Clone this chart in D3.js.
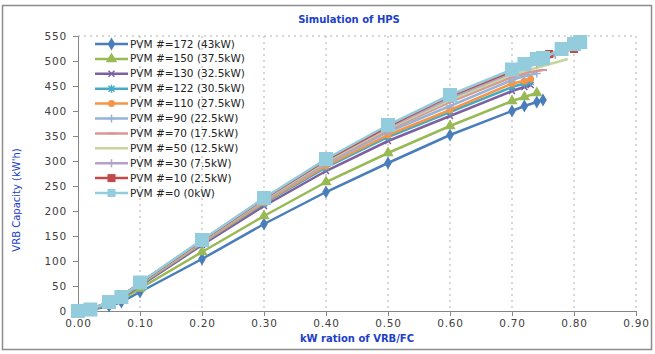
<!DOCTYPE html>
<html>
<head>
<meta charset="utf-8">
<script src="https://cdn.jsdelivr.net/npm/d3@7"></script>
<style>
  body { margin: 0; background: #fff; }
  text { font-family: "DejaVu Sans", sans-serif; }
</style>
</head>
<body>
<div id="chart"></div>
<script>
// series names
const seriesNames = [
  "PVM #=172 (43kW)", "PVM #=150 (37.5kW)", "PVM #=130 (32.5kW)", "PVM #=122 (30.5kW)",
  "PVM #=110 (27.5kW)", "PVM #=90 (22.5kW)", "PVM #=70 (17.5kW)", "PVM #=50 (12.5kW)",
  "PVM #=30 (7.5kW)", "PVM #=10 (2.5kW)", "PVM #=0 (0kW)"
];

// kW ratio values (x) common start, then each series has its own tail
const xBase = [0, 0.02, 0.05, 0.07, 0.10, 0.20, 0.30, 0.40, 0.50, 0.60, 0.70];
const xTails = [
  [0.72, 0.74, 0.75],
  [0.72, 0.74],
  [0.72, 0.73],
  [0.72, 0.73],
  [0.72, 0.73],
  [0.72, 0.74],
  [0.73, 0.75],
  [0.75, 0.79],
  [0.74, 0.77],
  [0.74, 0.76, 0.80],
  [0.72, 0.74, 0.75, 0.78, 0.80, 0.81]
];

// VRB capacity values (y)
const yValues = [
  [0, 2, 10, 18, 38, 104, 174, 238, 296, 352, 400, 410, 418, 422],
  [0, 3, 13, 22, 45, 118, 190, 258, 316, 370, 420, 428, 436],
  [0, 3, 15, 26, 50, 132, 210, 280, 340, 390, 440, 448, 452],
  [0, 3, 16, 27, 52, 135, 215, 287, 348, 398, 448, 455, 458],
  [0, 3, 16, 28, 53, 136, 217, 290, 352, 402, 455, 460, 464],
  [0, 3, 17, 28, 54, 138, 220, 294, 358, 410, 462, 470, 475],
  [0, 3, 17, 29, 55, 139, 222, 297, 362, 418, 468, 478, 482],
  [0, 3, 17, 29, 55, 140, 223, 299, 365, 422, 473, 490, 504],
  [0, 3, 18, 29, 56, 141, 224, 301, 367, 426, 477, 495, 512],
  [0, 3, 18, 30, 56, 141, 225, 302, 369, 430, 480, 500, 514, 524],
  [0, 3, 18, 28, 57, 142, 226, 304, 372, 432, 483, 494, 504, 506, 524, 534, 538]
];

const xTicks = [0, 0.1, 0.2, 0.3, 0.4, 0.5, 0.6, 0.7, 0.8, 0.9];
const yTicks = [0, 50, 100, 150, 200, 250, 300, 350, 400, 450, 500, 550];

const colors = ["#4A7EBB", "#98B954", "#7D60A0", "#46AAC5", "#F69545", "#95B3D7",
                "#D99694", "#C3D69B", "#B3A2C7", "#BE4B48", "#93CDDD"];
const markers = ["diamond", "triangle", "x", "star", "circle", "plus",
                 "dash", "none", "plus", "square", "bigsquare"];

const W = 655, H = 354;
const margin = { top: 36, right: 19, bottom: 43, left: 78 },
  width = W - margin.left - margin.right,
  height = H - margin.top - margin.bottom;

const svg = d3.select("#chart").append("svg")
  .attr("width", W).attr("height", H);

// outer chart frame
svg.append("rect")
  .attr("x", 2.5).attr("y", 5.5).attr("width", 649).attr("height", 344)
  .attr("fill", "none").attr("stroke", "#8c8c8c").attr("stroke-width", 1.5);

const g = svg.append("g").attr("transform", `translate(${margin.left},${margin.top})`);

const x = d3.scaleLinear().domain([0, 0.9]).range([0, width]);
const y = d3.scaleLinear().domain([0, 550]).range([height, 0]);

// vertical dotted gridlines
g.selectAll(".vgrid").data(xTicks.slice(1)).join("line")
  .attr("x1", d => x(d)).attr("x2", d => x(d))
  .attr("y1", 0).attr("y2", height)
  .attr("stroke", "#b0b0b0").attr("stroke-dasharray", "2,4");
// top dotted border
g.append("line").attr("x1", 0).attr("x2", width).attr("y1", 0).attr("y2", 0)
  .attr("stroke", "#b0b0b0").attr("stroke-dasharray", "2,4");

// axes
const xAxis = g.append("g").attr("transform", `translate(0,${height})`)
  .call(d3.axisBottom(x).tickValues(xTicks).tickFormat(d3.format(".2f")).tickSizeOuter(0).tickSize(5));
const yAxis = g.append("g")
  .call(d3.axisLeft(y).tickValues(yTicks).tickSizeOuter(0).tickSize(5));
[xAxis, yAxis].forEach(a => {
  a.select(".domain").attr("stroke", "#868686");
  a.selectAll(".tick line").attr("stroke", "#868686");
  a.selectAll("text").attr("fill", "#404040").style("font-size", "10.5px")
    .style("letter-spacing", "0.8px").style("font-family", "DejaVu Sans");
});
yAxis.selectAll("text").attr("x", -11);
xAxis.selectAll("text").attr("y", 9);

// marker drawing
function drawMarker(sel, type, color) {
  if (type === "diamond") {
    sel.append("path").attr("d", d3.symbol(d3.symbolDiamond, 50)()).attr("fill", color);
  } else if (type === "triangle") {
    sel.append("path").attr("d", d3.symbol(d3.symbolTriangle, 55)()).attr("fill", color);
  } else if (type === "circle") {
    sel.append("circle").attr("r", 3.5).attr("fill", color);
  } else if (type === "square") {
    sel.append("rect").attr("x", -4).attr("y", -4).attr("width", 8).attr("height", 8).attr("fill", color);
  } else if (type === "bigsquare") {
    sel.append("rect").attr("x", -7).attr("y", -7).attr("width", 14).attr("height", 14).attr("fill", color);
  } else if (type === "x") {
    sel.append("path").attr("d", "M-3,-3L3,3M-3,3L3,-3").attr("stroke", color).attr("stroke-width", 1.5);
  } else if (type === "star") {
    sel.append("path").attr("d", "M-3,-3L3,3M-3,3L3,-3M0,-4L0,4").attr("stroke", color).attr("stroke-width", 1.5);
  } else if (type === "plus") {
    sel.append("path").attr("d", "M-4,0L4,0M0,-4L0,4").attr("stroke", color).attr("stroke-width", 1.5);
  } else if (type === "dash") {
    sel.append("path").attr("d", "M-4,0L4,0").attr("stroke", color).attr("stroke-width", 2);
  }
}

const line = d3.line().x(d => x(d[0])).y(d => y(d[1]));

seriesNames.forEach((name, i) => {
  const xs = xBase.concat(xTails[i]);
  const pts = yValues[i].map((v, j) => [xs[j], v]);
  g.append("path").datum(pts)
    .attr("d", line).attr("fill", "none")
    .attr("stroke", colors[i]).attr("stroke-width", 2.5);
  g.selectAll(null).data(pts).join("g")
    .attr("transform", d => `translate(${x(d[0])},${y(d[1])})`)
    .each(function () { drawMarker(d3.select(this), markers[i], colors[i]); });
});

// legend
const legend = svg.append("g").attr("transform", "translate(95,44)");
seriesNames.forEach((name, i) => {
  const row = legend.append("g").attr("transform", `translate(0,${i * 14.9})`);
  row.append("line").attr("x1", 0).attr("x2", 33).attr("y1", 0).attr("y2", 0)
    .attr("stroke", colors[i]).attr("stroke-width", 2.5);
  const m = row.append("g").attr("transform", "translate(16.5,0)");
  drawMarker(m, markers[i] === "bigsquare" ? "square" : markers[i], colors[i]);
  row.append("text").attr("x", 35).attr("y", 3.5)
    .attr("fill", "#222").style("font-size", "10.5px").text(name);
});

// titles
svg.append("text").attr("x", 349).attr("y", 23).attr("text-anchor", "middle")
  .attr("fill", "#2040c8").style("font-weight", "bold").style("font-size", "10px")
  .text("Simulation of HPS");
svg.append("text").attr("x", 357).attr("y", 342).attr("text-anchor", "middle")
  .attr("fill", "#2040c8").style("font-weight", "bold").style("font-size", "10px")
  .text("kW ration of VRB/FC");
svg.append("text").attr("transform", "translate(20,200) rotate(-90)").attr("text-anchor", "middle")
  .attr("fill", "#2040c8").style("font-size", "10px")
  .text("VRB Capacity (kW'h)");
</script>
</body>
</html>
